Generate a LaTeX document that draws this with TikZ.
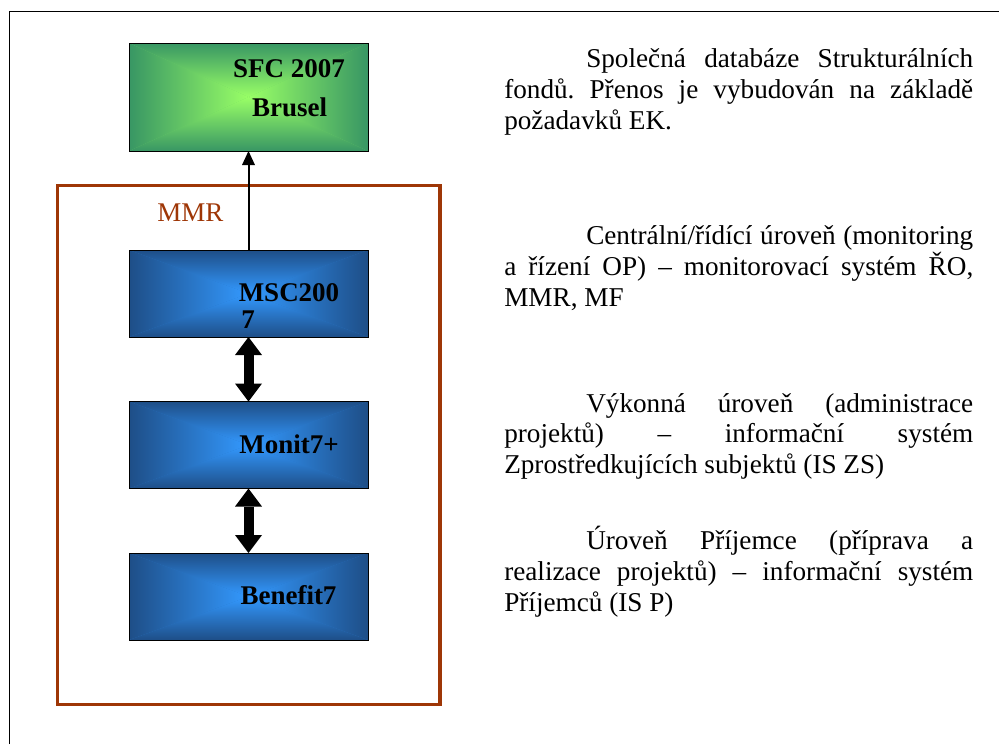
\documentclass[tikz,border=0pt]{standalone}
\usepackage{fontspec}
\setmainfont{Liberation Serif}
\usetikzlibrary{arrows.meta}
\definecolor{gdark}{RGB}{56,150,100}
\definecolor{glight}{RGB}{153,255,102}
\definecolor{bdark}{RGB}{30,78,135}
\definecolor{blight}{RGB}{51,153,255}
\definecolor{mmrbrown}{RGB}{158,54,6}
\tikzset{
  gradbox/.style 2 args={rectangle, draw=black, line width=0.75pt, inner sep=0pt, outer sep=0pt,
    minimum width=179.25pt,
    path picture={
      \fill[#1!45!#2] (path picture bounding box.north west) rectangle (path picture bounding box.south east);
      \begin{scope}
        \clip (path picture bounding box.north west) -- (path picture bounding box.north east) -- (path picture bounding box.center) -- cycle;
        \shade[top color=#1, bottom color=#2] (path picture bounding box.north west) rectangle (path picture bounding box.east);
      \end{scope}
      \begin{scope}
        \clip (path picture bounding box.south west) -- (path picture bounding box.south east) -- (path picture bounding box.center) -- cycle;
        \shade[top color=#2, bottom color=#1] (path picture bounding box.west) rectangle (path picture bounding box.south east);
      \end{scope}
      \begin{scope}
        \clip (path picture bounding box.north west) -- (path picture bounding box.south west) -- (path picture bounding box.center) -- cycle;
        \shade[left color=#1, right color=#2] (path picture bounding box.north west) rectangle (path picture bounding box.south);
      \end{scope}
      \begin{scope}
        \clip (path picture bounding box.north east) -- (path picture bounding box.south east) -- (path picture bounding box.center) -- cycle;
        \shade[left color=#2, right color=#1] (path picture bounding box.north) rectangle (path picture bounding box.south east);
      \end{scope}
    }},
  boxtxt/.style={anchor=base, inner sep=0pt, font=\fontsize{20.25pt}{24pt}\selectfont\bfseries},
  rtext/.style={anchor=base west, inner sep=0pt, font=\fontsize{20.4pt}{23.25pt}\selectfont\frenchspacing},
  blockarrow/.style={line width=7.5pt,
    {Triangle[width=20.25pt,length=13.5pt,line width=0pt]}-{Triangle[width=20.25pt,length=13.5pt,line width=0pt]}},
  thinarrow/.style={line width=1.5pt, -{Triangle[width=9.75pt,length=10.5pt,line width=0pt]}}
}
\newcommand{\fullline}[1]{\makebox[351.75pt][s]{#1}}
\newcommand{\indline}[1]{\makebox[290.25pt][s]{#1}}
\begin{document}
\begin{tikzpicture}[x=0.75pt,y=-0.75pt]
\useasboundingbox (0,0) rectangle (999,744);
% outer frame (top and left edges)
\draw[line width=1.2pt, black] (9.5,744) -- (9.5,11.5) -- (999,11.5);
% MMR frame
\draw[line width=2.6pt, mmrbrown] (57.5,185.5) rectangle (440,704.7);
\node[anchor=base west, inner sep=0pt, text=mmrbrown, font=\fontsize{20.25pt}{24pt}\selectfont] (mmr) at (157,221) {MMR};
% boxes
\node[gradbox={gdark}{glight}, minimum height=81pt] (sfc) at (248.5,97) {};
\node[gradbox={bdark}{blight}, minimum height=65.25pt] (msc) at (248.5,293.5) {};
\node[gradbox={bdark}{blight}, minimum height=65.25pt] (monit) at (248.5,445) {};
\node[gradbox={bdark}{blight}, minimum height=65.25pt] (benefit) at (248.5,596.5) {};
% box labels
\node[boxtxt] (sfct) at (289,77) {SFC 2007};
\node[boxtxt] (sfcb) at (289.5,116) {Brusel};
\node[boxtxt] (msct) at (289,301) {MSC200};
\node[boxtxt] (mscb) at (248,328) {7};
\node[boxtxt] (monitt) at (289,453) {Monit7+};
\node[boxtxt] (benefitt) at (288.5,604) {Benefit7};
% connectors
\draw[thinarrow] (msc.north) -- (sfc.south);
\draw[blockarrow] (msc.south) -- (monit.north);
\draw[blockarrow] (monit.south) -- (benefit.north);
% right column text
\node[rtext] (p1a) at (586,67) {\indline{Společná databáze Strukturálních}};
\node[rtext] (p1b) at (504,98) {\fullline{fondů. Přenos je vybudován na základě}};
\node[rtext] (p1c) at (504,129) {požadavků EK.};
\node[rtext] (p2a) at (586,244) {\indline{Centrální/řídící úroveň (monitoring}};
\node[rtext] (p2b) at (504,275) {\fullline{a řízení OP) – monitorovací systém ŘO,}};
\node[rtext] (p2c) at (504,306) {MMR, MF};
\node[rtext] (p3a) at (586,412) {\indline{Výkonná úroveň (administrace}};
\node[rtext] (p3b) at (504,442.5) {\fullline{projektů) – informační systém}};
\node[rtext] (p3c) at (504,473) {Zprostředkujících subjektů (IS ZS)};
\node[rtext] (p4a) at (586,549) {\indline{Úroveň Příjemce (příprava a}};
\node[rtext] (p4b) at (504,580) {\fullline{realizace projektů) – informační systém}};
\node[rtext] (p4c) at (504,611) {Příjemců (IS P)};
\end{tikzpicture}
\end{document}
